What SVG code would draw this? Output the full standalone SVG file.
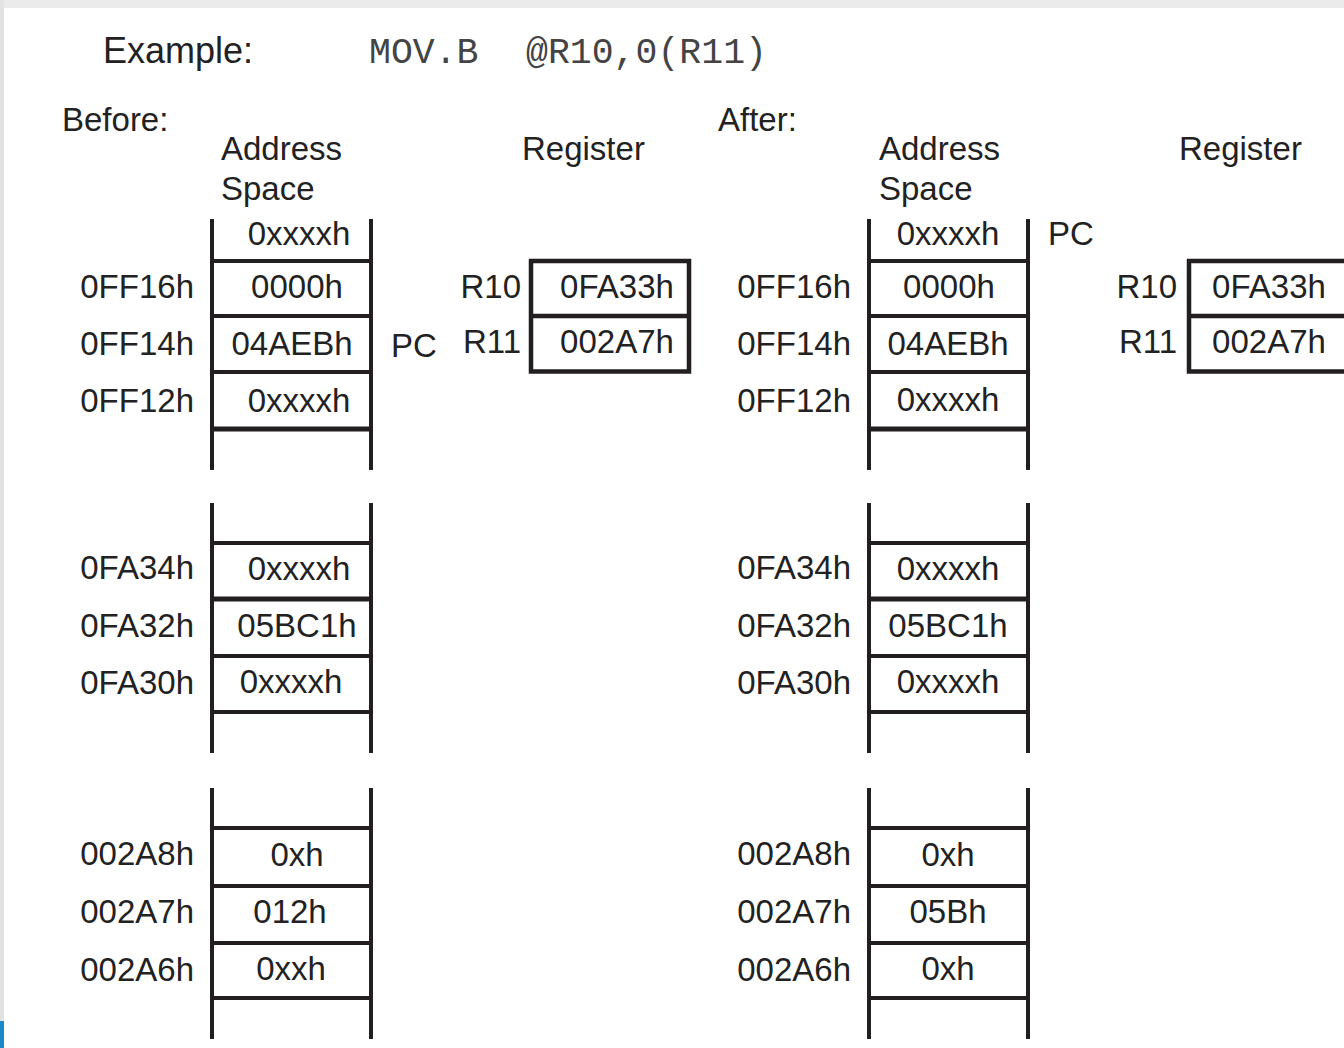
<svg xmlns="http://www.w3.org/2000/svg" width="1344" height="1048" viewBox="0 0 1344 1048">
<style>
.t{font-family:"Liberation Sans",Arial,sans-serif;font-size:33px;fill:#222}
.big{font-size:36px}
.m{font-family:"Liberation Mono","Courier New",monospace;font-size:36.5px;fill:#444}
.e{text-anchor:end}
.c{text-anchor:middle}
.ln{stroke:#231f20;stroke-width:4;fill:none}
.ln5{stroke-width:5}
.bx{stroke:#231f20;stroke-width:4.5;fill:none}
</style>
<rect width="1344" height="1048" fill="#ffffff"/>
<rect x="0" y="0" width="1344" height="8" fill="#ebebeb"/>
<rect x="0" y="0" width="4" height="1048" fill="#e2e2e2"/>
<rect x="0" y="1021" width="4" height="27" fill="#1a8ac6"/>

<g id="title">
<text class="t big" x="103" y="63">Example:</text>
<text class="m" x="369" y="63">MOV.B</text>
<text class="m" x="526" y="63">@R10,0(R11)</text>
</g>

<g id="before">
<text class="t" x="62" y="131">Before:</text>
<text class="t" x="221" y="160">Address</text>
<text class="t" x="221" y="200">Space</text>
<text class="t" x="522" y="160">Register</text>

<g id="before-mem-top">
<path class="ln" d="M212 219V470M371 219V470M212 261H371M212 316H371M212 372H371"/>
<path class="ln ln5" d="M212 429H371"/>
<text class="t c" x="299" y="245">0xxxxh</text>
<text class="t c" x="297" y="298">0000h</text>
<text class="t c" x="292" y="355">04AEBh</text>
<text class="t c" x="299" y="412">0xxxxh</text>
<text class="t e" x="194" y="298">0FF16h</text>
<text class="t e" x="194" y="355">0FF14h</text>
<text class="t e" x="194" y="412">0FF12h</text>
<text class="t" x="391" y="357">PC</text>
</g>

<g id="before-regs">
<path class="bx" d="M531 261H689V371.5H531ZM531 316H689"/>
<text class="t e" x="521" y="298">R10</text>
<text class="t e" x="521" y="353">R11</text>
<text class="t c" x="617" y="298">0FA33h</text>
<text class="t c" x="617" y="353">002A7h</text>
</g>

<g id="before-mem-mid">
<path class="ln" d="M212 503V753M371 503V753M212 543H371M212 656H371M212 712H371"/>
<path class="ln ln5" d="M212 599H371"/>
<text class="t c" x="299" y="580">0xxxxh</text>
<text class="t c" x="297" y="637">05BC1h</text>
<text class="t c" x="291" y="693">0xxxxh</text>
<text class="t e" x="194" y="579">0FA34h</text>
<text class="t e" x="194" y="637">0FA32h</text>
<text class="t e" x="194" y="694">0FA30h</text>
</g>

<g id="before-mem-bot">
<path class="ln" d="M212 788V1039M371 788V1039M212 828H371M212 886H371M212 943H371M212 998H371"/>
<text class="t c" x="297" y="866">0xh</text>
<text class="t c" x="290" y="923">012h</text>
<text class="t c" x="291" y="980">0xxh</text>
<text class="t e" x="194" y="865">002A8h</text>
<text class="t e" x="194" y="923">002A7h</text>
<text class="t e" x="194" y="981">002A6h</text>
</g>
</g>

<g id="after">
<text class="t" x="718" y="131">After:</text>
<text class="t" x="879" y="160">Address</text>
<text class="t" x="879" y="200">Space</text>
<text class="t" x="1179" y="160">Register</text>

<g id="after-mem-top">
<path class="ln" d="M869 219V470M1028 219V470M869 261H1028M869 316H1028M869 372H1028"/>
<path class="ln ln5" d="M869 429H1028"/>
<text class="t c" x="948" y="245">0xxxxh</text>
<text class="t c" x="949" y="298">0000h</text>
<text class="t c" x="948" y="355">04AEBh</text>
<text class="t c" x="948" y="411">0xxxxh</text>
<text class="t e" x="851" y="298">0FF16h</text>
<text class="t e" x="851" y="355">0FF14h</text>
<text class="t e" x="851" y="412">0FF12h</text>
<text class="t" x="1048" y="245">PC</text>
</g>

<g id="after-regs">
<path class="bx" d="M1360 261H1189V371.5H1360M1189 316H1360"/>
<text class="t e" x="1177" y="298">R10</text>
<text class="t e" x="1177" y="353">R11</text>
<text class="t c" x="1269" y="298">0FA33h</text>
<text class="t c" x="1269" y="353">002A7h</text>
</g>

<g id="after-mem-mid">
<path class="ln" d="M869 503V753M1028 503V753M869 543H1028M869 656H1028M869 712H1028"/>
<path class="ln ln5" d="M869 599H1028"/>
<text class="t c" x="948" y="580">0xxxxh</text>
<text class="t c" x="948" y="637">05BC1h</text>
<text class="t c" x="948" y="693">0xxxxh</text>
<text class="t e" x="851" y="579">0FA34h</text>
<text class="t e" x="851" y="637">0FA32h</text>
<text class="t e" x="851" y="694">0FA30h</text>
</g>

<g id="after-mem-bot">
<path class="ln" d="M869 788V1039M1028 788V1039M869 828H1028M869 886H1028M869 943H1028M869 998H1028"/>
<text class="t c" x="948" y="866">0xh</text>
<text class="t c" x="948" y="923">05Bh</text>
<text class="t c" x="948" y="980">0xh</text>
<text class="t e" x="851" y="865">002A8h</text>
<text class="t e" x="851" y="923">002A7h</text>
<text class="t e" x="851" y="981">002A6h</text>
</g>
</g>

<g id="connectors"/>
</svg>
